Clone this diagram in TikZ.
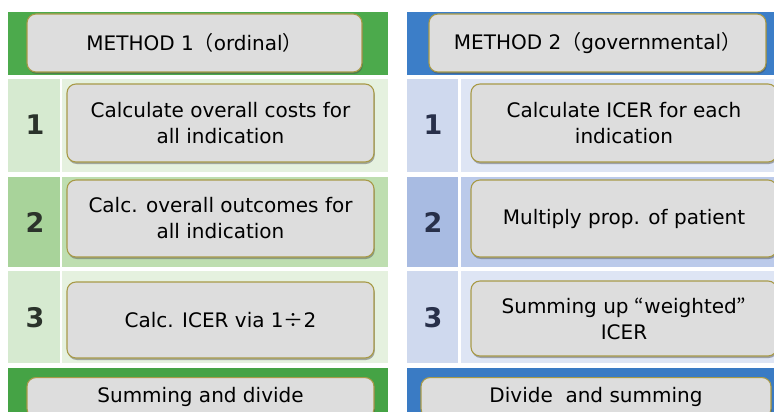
\documentclass[tikz,border=0pt]{standalone}
\usepackage{fontspec}
\setmainfont{DejaVu Sans}
\newfontfamily\cjk{Noto Sans CJK JP}
\usetikzlibrary{shadows}

\definecolor{gHead}{HTML}{4CAA4C}
\definecolor{gFoot}{HTML}{45A345}
\definecolor{gNumL}{HTML}{D6EAD0}
\definecolor{gStepL}{HTML}{E5F1DF}
\definecolor{gNumM}{HTML}{A8D39A}
\definecolor{gStepM}{HTML}{BEDEB0}
\definecolor{bHead}{HTML}{3C7EC8}
\definecolor{bFoot}{HTML}{3A7BC4}
\definecolor{bNumL}{HTML}{CFD9EE}
\definecolor{bStepL}{HTML}{DEE5F4}
\definecolor{bNumM}{HTML}{A8BBE2}
\definecolor{bStepM}{HTML}{BBCAEA}
\definecolor{boxFill}{HTML}{DDDDDD}
\definecolor{boxLine}{HTML}{A89A48}
\definecolor{gDigit}{HTML}{2B332B}
\definecolor{bDigit}{HTML}{28304A}

\tikzset{
  cardtext/.style={font=\fontsize{20}{26}\selectfont},
  card/.style={rectangle, rounded corners=9pt, fill=boxFill, draw=boxLine,
    line width=1.1pt, align=center, inner sep=2pt, cardtext,
    drop shadow={shadow xshift=0.8pt, shadow yshift=-2pt, opacity=0.45, fill=black!70}},
  digit/.style={font=\fontsize{27}{27}\selectfont\bfseries, inner sep=0pt}
}

\begin{document}
\begin{tikzpicture}[x=1pt, y=-1pt]
  \useasboundingbox (0,0) rectangle (774,412);
  \fill[white] (0,0) rectangle (774,412);

  % left panel: header, step rows and footer bands
  \fill[gHead] (8,12) rectangle (388,75);
  \fill[gNumL]  (8,79)  rectangle (60,172);  \fill[gStepL] (62,79)  rectangle (388,172);
  \fill[gNumM]  (8,177) rectangle (60,267);  \fill[gStepM] (62,177) rectangle (388,267);
  \fill[gNumL]  (8,271) rectangle (60,363);  \fill[gStepL] (62,271) rectangle (388,363);
  \fill[gFoot] (8,368) rectangle (388,412);

  % right panel
  \fill[bHead] (407,12) rectangle (774,75);
  \fill[bNumL]  (407,79)  rectangle (458,172); \fill[bStepL] (461,79)  rectangle (774,172);
  \fill[bNumM]  (407,177) rectangle (458,267); \fill[bStepM] (461,177) rectangle (774,267);
  \fill[bNumL]  (407,271) rectangle (458,363); \fill[bStepL] (461,271) rectangle (774,363);
  \fill[bFoot] (407,368) rectangle (774,412);

  % headers
  \node[card, minimum width=335pt, minimum height=58pt] (h1) at (194.5,43) {METHOD 1{\cjk（}ordinal{\cjk）}};
  \node[card, minimum width=337pt, minimum height=58pt] (h2) at (597.5,43) {METHOD 2{\cjk（}governmental{\cjk）}};

  % step numbers
  \node[digit, text=gDigit] (n11) at (35,125) {1};
  \node[digit, text=gDigit] (n12) at (35,222) {2};
  \node[digit, text=gDigit] (n13) at (35,318) {3};
  \node[digit, text=bDigit] (n21) at (433,125) {1};
  \node[digit, text=bDigit] (n22) at (433,222) {2};
  \node[digit, text=bDigit] (n23) at (433,318) {3};

  % method 1 steps
  \node[card, minimum width=307pt, minimum height=78pt] (s11) at (220.5,123) {Calculate overall costs for\\all indication};
  \node[card, minimum width=307pt, minimum height=77pt] (s12) at (220.5,218.5) {Calc. overall outcomes for\\all indication};
  \node[card, minimum width=307pt, minimum height=76pt] (s13) at (220.5,320) {Calc. ICER via 1{\cjk ÷}2};

  % method 2 steps
  \node[card, minimum width=306pt, minimum height=78pt] (s21) at (624,123) {Calculate ICER for each\\indication};
  \node[card, minimum width=306pt, minimum height=77pt] (s22) at (624,218.5) {Multiply prop. of patient};
  \node[card, minimum width=306pt, minimum height=75pt] (s23) at (624,318.5) {Summing up {\cjk “}weighted{\cjk ”}\\ICER};

  % footers
  \node[card, minimum width=347pt, minimum height=40pt, anchor=north] (f1) at (200.5,377) {};
  \node[card, minimum width=350pt, minimum height=40pt, anchor=north] (f2) at (596,377) {};
  \node[cardtext, anchor=base] (t1) at (200.5,402) {Summing and divide};
  \node[cardtext, anchor=base] (t2) at (596,402) {Divide~ and summing};
\end{tikzpicture}
\end{document}
